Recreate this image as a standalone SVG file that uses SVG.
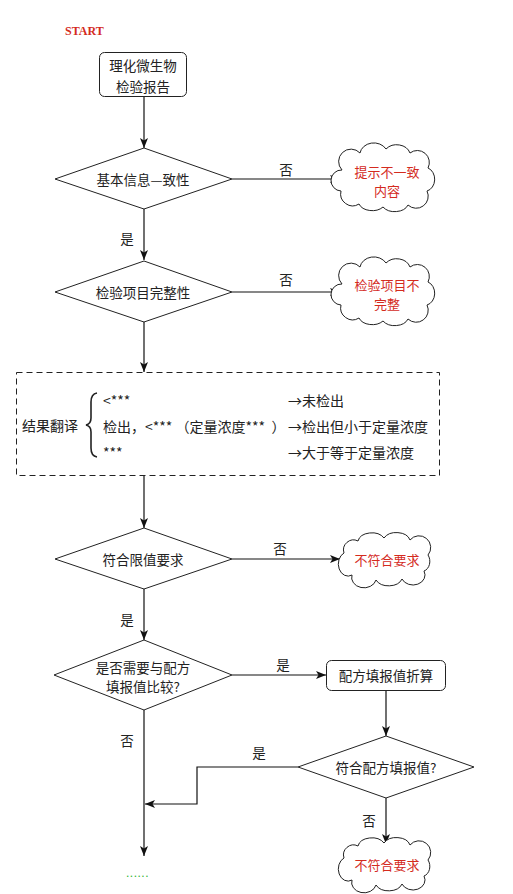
<svg xmlns="http://www.w3.org/2000/svg" width="513" height="894" viewBox="0 0 513 894">
<style>
.t{font-family:"Noto Sans CJK SC","Liberation Serif",sans-serif;font-size:13.5px;fill:#222;text-anchor:middle;dominant-baseline:central}
.tl{text-anchor:start}
.b{font-size:14px}
.r{fill:#d42b1e;font-size:13px}
.s{fill:#fff;stroke:#222;stroke-width:1}
.c{fill:none;stroke:#111;stroke-width:1.2}
</style>
<defs>
<marker id="ah" viewBox="0 0 10 8" refX="10" refY="4" markerWidth="10" markerHeight="8" markerUnits="userSpaceOnUse" orient="auto">
<path d="M0,0 L10,4 L0,8 L2.5,4 Z" fill="#111"/>
</marker>
<path id="cloudL" d="M -44,-8 A 12,12 0 0 1 -26,-25 A 14,12 0 0 1 0,-29 A 14,12 0 0 1 24,-25 A 12,12 0 0 1 42,-10 A 10,12 0 0 1 41,13 A 12,12 0 0 1 22,27 A 14,10 0 0 1 -3,29 A 14,10 0 0 1 -27,26 A 12,12 0 0 1 -45,13 A 10,10 0 0 1 -44,-8 Z"/>
<path id="cloudS" d="M -42,-6 A 10,10 0 0 1 -28,-18 A 14,10 0 0 1 -2,-21 A 14,10 0 0 1 24,-19 A 10,10 0 0 1 42,-4 A 8,10 0 0 1 38,12 A 12,10 0 0 1 16,20 A 14,10 0 0 1 -10,21 A 12,10 0 0 1 -34,16 A 8,10 0 0 1 -42,-6 Z"/>
</defs>
<rect width="513" height="894" fill="#fff"/>

<text x="65" y="31" style="font-family:'Liberation Serif',serif;font-weight:bold;font-size:12px;fill:#d42b1e;dominant-baseline:central">START</text>

<g id="connectors">
<path class="c" d="M144,97 V148" marker-end="url(#ah)"/>
<path class="c" d="M232,179 H340" marker-end="url(#ah)"/>
<path class="c" d="M144,209 V260" marker-end="url(#ah)"/>
<path class="c" d="M232,292 H340" marker-end="url(#ah)"/>
<path class="c" d="M144,322 V372" marker-end="url(#ah)"/>
<path class="c" d="M144,476 V528" marker-end="url(#ah)"/>
<path class="c" d="M232,559 H340" marker-end="url(#ah)"/>
<path class="c" d="M144,589 V640" marker-end="url(#ah)"/>
<path class="c" d="M232,675 H326" marker-end="url(#ah)"/>
<path class="c" d="M386,691 V736" marker-end="url(#ah)"/>
<path class="c" d="M298,767 H197 V804 H145" marker-end="url(#ah)"/>
<path class="c" d="M386,798 V844" marker-end="url(#ah)"/>
<path class="c" d="M144,710 V856" marker-end="url(#ah)"/>
<text class="t" x="286" y="169">否</text>
<text class="t" x="127" y="238">是</text>
<text class="t" x="286" y="279">否</text>
<text class="t" x="280" y="548">否</text>
<text class="t" x="127" y="619">是</text>
<text class="t" x="283" y="664">是</text>
<text class="t" x="127" y="740">否</text>
<text class="t" x="259" y="752">是</text>
<text class="t" x="369" y="820">否</text>
</g>

<g id="n1">
<rect class="s" x="99.5" y="52.5" width="87" height="44" rx="5"/>
<text class="t" x="143" y="65">理化微生物</text>
<text class="t" x="143" y="86">检验报告</text>
</g>

<g id="d1">
<polygon class="s" points="55,179 144,148 232,179 144,209"/>
<text class="t" x="143" y="179">基本信息—致性</text>
</g>
<g id="c1">
<use href="#cloudL" class="s" transform="translate(386,178)"/>
<text class="t r" x="387" y="171">提示不一致</text>
<text class="t r" x="387" y="190">内容</text>
</g>

<g id="d2">
<polygon class="s" points="55,292 144,261 232,292 144,322"/>
<text class="t" x="143" y="292">检验项目完整性</text>
</g>
<g id="c2">
<use href="#cloudL" class="s" transform="translate(386,292)"/>
<text class="t r" x="387" y="284">检验项目不</text>
<text class="t r" x="387" y="303">完整</text>
</g>

<g id="box">
<rect x="16.5" y="372.5" width="423" height="103" fill="none" stroke="#222" stroke-width="1" stroke-dasharray="6,4"/>
<text class="t tl b" x="22" y="425">结果翻译</text>
<path d="M97,393 Q91,394 91,402 L91,418 Q91,424 86,425 Q91,426 91,432 L91,448 Q91,456 97,457" fill="none" stroke="#222" stroke-width="1.6"/>
<text class="t tl b" x="103" y="400">&lt;***</text>
<text class="t tl b" x="103" y="426" xml:space="preserve">检出，&lt;*** （定量浓度***  ）</text>
<text class="t tl b" x="103" y="452">***</text>
<text class="t tl b" x="288" y="400">→未检出</text>
<text class="t tl b" x="288" y="426">→检出但小于定量浓度</text>
<text class="t tl b" x="288" y="452">→大于等于定量浓度</text>
</g>

<g id="d3">
<polygon class="s" points="55,559 144,528 232,559 144,589"/>
<text class="t" x="143" y="559">符合限值要求</text>
</g>
<g id="c3">
<use href="#cloudS" class="s" transform="translate(386,559)"/>
<text class="t r" x="387" y="559">不符合要求</text>
</g>

<g id="d4">
<polygon class="s" points="54,675 144,640 232,675 144,710"/>
<text class="t" x="143" y="667">是否需要与配方</text>
<text class="t" x="143" y="686">填报值比较?</text>
</g>

<g id="n2">
<rect class="s" x="326.5" y="660.5" width="119" height="30" rx="5"/>
<text class="t" x="386" y="675">配方填报值折算</text>
</g>

<g id="d5">
<polygon class="s" points="298,767 386,736 474,767 386,798"/>
<text class="t" x="386" y="767">符合配方填报值?</text>
</g>

<g id="c4">
<use href="#cloudS" class="s" transform="translate(386,864)"/>
<text class="t r" x="387" y="864">不符合要求</text>
</g>

<text x="126" y="873" style="font-family:'Liberation Sans',sans-serif;font-size:12px;fill:#2fb52f;letter-spacing:0.5px;dominant-baseline:central">......</text>
</svg>
